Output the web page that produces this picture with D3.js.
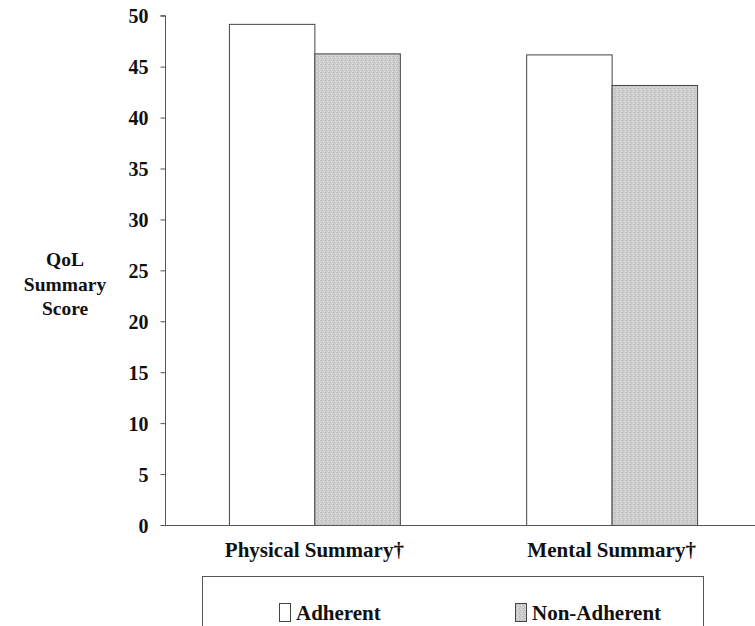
<!DOCTYPE html>
<html>
<head>
<meta charset="utf-8">
<script src="https://cdn.jsdelivr.net/npm/d3@7"></script>
<style>
  html, body { margin: 0; padding: 0; background: #fff; }
  text { font-family: "Liberation Serif", "Times New Roman", serif; font-weight: bold; fill: #111; }
</style>
</head>
<body>
<svg id="chart" width="755" height="626"></svg>
<script>
const categories = ["Physical Summary\u2020", "Mental Summary\u2020"];
const seriesNames = ["Adherent", "Non-Adherent"];
const adherent = [49.2, 46.2];
const nonAdherent = [46.3, 43.2];
const yTicks = [0, 5, 10, 15, 20, 25, 30, 35, 40, 45, 50];
const yTitle = ["QoL", "Summary", "Score"];

const colors = { "Adherent": "#ffffff", "Non-Adherent": "#cdcdcd" };
const svg = d3.select("#chart");

// fine grain texture for the gray bars
const defs = svg.append("defs");
const pat = defs.append("pattern").attr("id", "grain").attr("patternUnits", "userSpaceOnUse")
  .attr("width", 4).attr("height", 4);
pat.append("rect").attr("width", 4).attr("height", 4).attr("fill", colors["Non-Adherent"]);
pat.append("rect").attr("x", 0).attr("y", 0).attr("width", 1).attr("height", 1).attr("fill", "#b4b4b4");
pat.append("rect").attr("x", 2).attr("y", 1).attr("width", 1).attr("height", 1).attr("fill", "#dfdfdf");
pat.append("rect").attr("x", 1).attr("y", 2).attr("width", 1).attr("height", 1).attr("fill", "#bdbdbd");
pat.append("rect").attr("x", 3).attr("y", 3).attr("width", 1).attr("height", 1).attr("fill", "#dbdbdb");

const y = d3.scaleLinear().domain([0, 50]).range([525, 15.7]);
const x0 = d3.scaleBand().domain(categories).range([165, 761]).paddingInner(0.425).paddingOuter(0.215);
const x1 = d3.scaleBand().domain(seriesNames).range([0, x0.bandwidth()]);

const data = categories.map((c, i) => ({ cat: c, vals: [
  { s: "Adherent", v: adherent[i] }, { s: "Non-Adherent", v: nonAdherent[i] }] }));

// y axis
const yAxis = d3.axisLeft(y).tickValues(yTicks).tickSize(5).tickPadding(12);
const gy = svg.append("g").attr("transform", "translate(165.5,0)").call(yAxis);
gy.select(".domain").attr("stroke", "#555").attr("d", `M-5,${y(50)}H0V${y(0)}`);
gy.selectAll(".tick line").attr("stroke", "#555");
gy.selectAll(".tick text").style("font-size", "20px").attr("dy", "0.36em");

// bars
const groups = svg.append("g").selectAll("g").data(data).join("g")
  .attr("transform", d => `translate(${x0(d.cat)},0)`);
groups.selectAll("rect").data(d => d.vals).join("rect")
  .attr("x", d => x1(d.s) + 0.5)
  .attr("y", d => y(d.v) + 0.5)
  .attr("width", x1.bandwidth())
  .attr("height", d => y(0) - y(d.v))
  .attr("fill", d => d.s === "Adherent" ? colors[d.s] : "url(#grain)")
  .attr("stroke", "#444").attr("stroke-width", 1);

// baseline
svg.append("line").attr("x1", 165).attr("x2", 755).attr("y1", y(0) + 0.5).attr("y2", y(0) + 0.5)
  .attr("stroke", "#555").attr("stroke-width", 1.2);

// x labels
const xAxis = d3.axisBottom(x0).tickSize(0).tickPadding(0);
const gx = svg.append("g").attr("transform", `translate(0,${y(0)})`).call(xAxis);
gx.select(".domain").remove();
gx.selectAll(".tick text").style("font-size", "21px").attr("dy", 0).attr("y", 32);

// y title
svg.append("text").attr("text-anchor", "middle").style("font-size", "19.5px")
  .selectAll("tspan").data(yTitle).join("tspan")
  .attr("x", 65).attr("y", (d, i) => 266 + i * 24.5).text(d => d);

// legend
svg.append("rect").attr("x", 202.5).attr("y", 576.5).attr("width", 501).attr("height", 80)
  .attr("fill", "none").attr("stroke", "#555").attr("stroke-width", 1);
const legX = [279, 515];
const lg = svg.append("g").selectAll("g").data(seriesNames).join("g")
  .attr("transform", (d, i) => `translate(${legX[i]},0)`);
lg.append("rect").attr("x", 0.5).attr("y", 603.5).attr("width", 11).attr("height", 18)
  .attr("fill", d => d === "Adherent" ? "#fff" : "url(#grain)").attr("stroke", "#444");
lg.append("text").attr("x", 17).attr("y", 620).style("font-size", "21px").text(d => d);
</script>
</body>
</html>
